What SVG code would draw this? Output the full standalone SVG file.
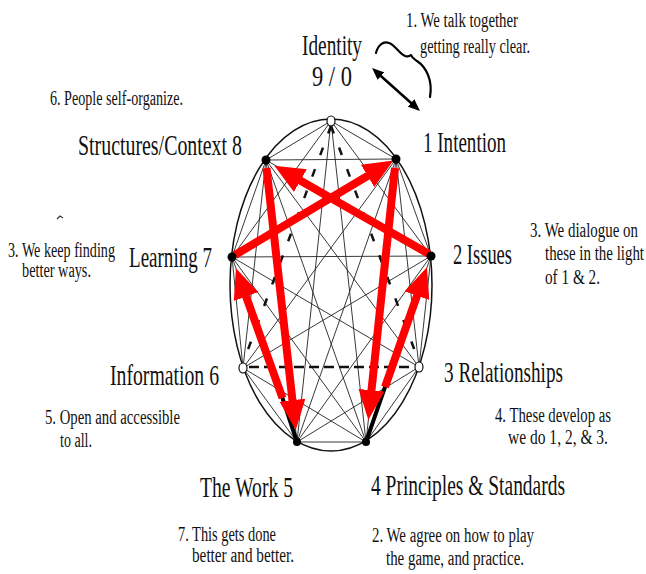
<svg xmlns="http://www.w3.org/2000/svg" width="646" height="574" viewBox="0 0 646 574">
<defs>
<style>
.big{font-family:"Liberation Serif","Times New Roman",serif;font-size:29px;fill:#111}
.sm{font-family:"Liberation Serif","Times New Roman",serif;font-size:20px;fill:#111}
.thin{stroke:#222;stroke-width:0.9;fill:none}
.dashA{stroke:#111;stroke-width:2.5;stroke-dasharray:8 15;fill:none}
.dashB{stroke:#111;stroke-width:2.5;stroke-dasharray:10 5;fill:none}
.red{stroke:#ff0000;stroke-width:8;fill:none;marker-end:url(#rh)}
.thick{stroke:#000;stroke-width:4;stroke-linecap:round}
.dot{fill:#000}
.wdot{fill:#fff;stroke:#111;stroke-width:1.2}
</style>
<marker id="rh" markerUnits="userSpaceOnUse" markerWidth="30" markerHeight="26" refX="15" refY="13" orient="auto" viewBox="0 0 30 26"><path d="M0,0 L30,13 L0,26 z" fill="#ff0000"/></marker>
<marker id="bh" markerUnits="userSpaceOnUse" markerWidth="12" markerHeight="10" refX="8" refY="5" orient="auto-start-reverse" viewBox="0 0 12 10"><path d="M0,0 L12,5 L0,10 z" fill="#000"/></marker>
</defs>
<rect width="646" height="574" fill="#fff"/>
<ellipse cx="331" cy="285" rx="101" ry="166" fill="none" stroke="#111" stroke-width="1.5"/>
<g id="connectors">
<line class="thin" x1="331" y1="121" x2="396" y2="159"/>
<line class="thin" x1="331" y1="121" x2="431" y2="256"/>
<line class="thin" x1="331" y1="121" x2="366" y2="442"/>
<line class="thin" x1="331" y1="121" x2="297" y2="442"/>
<line class="thin" x1="331" y1="121" x2="232" y2="257"/>
<line class="thin" x1="331" y1="121" x2="266" y2="160"/>
<line class="thin" x1="396" y1="159" x2="431" y2="256"/>
<line class="thin" x1="396" y1="159" x2="419" y2="367"/>
<line class="thin" x1="396" y1="159" x2="366" y2="442"/>
<line class="thin" x1="396" y1="159" x2="297" y2="442"/>
<line class="thin" x1="396" y1="159" x2="243" y2="368"/>
<line class="thin" x1="396" y1="159" x2="232" y2="257"/>
<line class="thin" x1="396" y1="159" x2="266" y2="160"/>
<line class="thin" x1="431" y1="256" x2="419" y2="367"/>
<line class="thin" x1="431" y1="256" x2="366" y2="442"/>
<line class="thin" x1="431" y1="256" x2="297" y2="442"/>
<line class="thin" x1="431" y1="256" x2="243" y2="368"/>
<line class="thin" x1="431" y1="256" x2="232" y2="257"/>
<line class="thin" x1="431" y1="256" x2="266" y2="160"/>
<line class="thin" x1="419" y1="367" x2="366" y2="442"/>
<line class="thin" x1="419" y1="367" x2="297" y2="442"/>
<line class="thin" x1="419" y1="367" x2="232" y2="257"/>
<line class="thin" x1="419" y1="367" x2="266" y2="160"/>
<line class="thin" x1="366" y1="442" x2="297" y2="442"/>
<line class="thin" x1="366" y1="442" x2="243" y2="368"/>
<line class="thin" x1="366" y1="442" x2="232" y2="257"/>
<line class="thin" x1="366" y1="442" x2="266" y2="160"/>
<line class="thin" x1="297" y1="442" x2="243" y2="368"/>
<line class="thin" x1="297" y1="442" x2="232" y2="257"/>
<line class="thin" x1="297" y1="442" x2="266" y2="160"/>
<line class="thin" x1="243" y1="368" x2="232" y2="257"/>
<line class="thin" x1="243" y1="368" x2="266" y2="160"/>
<line class="thin" x1="232" y1="257" x2="266" y2="160"/>
<line class="dashA" x1="331" y1="126" x2="419" y2="362"/>
<line class="dashA" x1="331" y1="126" x2="243" y2="363"/>
<line class="dashB" x1="249" y1="367" x2="413" y2="367"/>
<line class="thick" x1="297" y1="442" x2="282.5" y2="398"/>
<line class="thick" x1="366" y1="442" x2="385" y2="387"/>
<line class="red" x1="429" y1="254" x2="287.4" y2="173.2"/>
<line class="red" x1="235" y1="255" x2="380.5" y2="168.2"/>
<line class="red" x1="266.5" y1="168" x2="294.1" y2="415.1"/>
<line class="red" x1="395" y1="168" x2="369.9" y2="405.2"/>
<line class="red" x1="282.5" y1="398" x2="241" y2="282.4"/>
<line class="red" x1="385" y1="387" x2="422" y2="281.5"/>
<line x1="375" y1="70.7" x2="417" y2="108.3" stroke="#000" stroke-width="2.5" marker-start="url(#bh)" marker-end="url(#bh)"/>
<path d="M376,53 C378,45 383,41 389,43 C395,45 399,53 405,56 C408,57 410,56 411,55 C412,58 414,59 417,61 C426,67 433,80 430,97" fill="none" stroke="#000" stroke-width="2.2" stroke-linecap="round" stroke-linejoin="round"/>
</g>
<g id="node-identity">
<ellipse class="wdot" cx="331" cy="121" rx="4" ry="5"/>
<text class="big" x="302" y="55" textLength="60" lengthAdjust="spacingAndGlyphs">Identity</text>
<text class="big" x="312" y="86" textLength="40" lengthAdjust="spacingAndGlyphs">9 / 0</text>
</g>
<g id="node-intention">
<circle class="dot" cx="396" cy="159" r="4.5"/>
<text class="big" x="423" y="152" textLength="83" lengthAdjust="spacingAndGlyphs">1 Intention</text>
</g>
<g id="node-issues">
<circle class="dot" cx="431" cy="256" r="4.5"/>
<text class="big" x="453" y="264" textLength="59" lengthAdjust="spacingAndGlyphs">2 Issues</text>
</g>
<g id="node-relationships">
<ellipse class="wdot" cx="419" cy="367" rx="4" ry="5"/>
<text class="big" x="444" y="382" textLength="119" lengthAdjust="spacingAndGlyphs">3 Relationships</text>
</g>
<g id="node-principles">
<circle class="dot" cx="366" cy="442" r="4"/>
<text class="big" x="371" y="495" textLength="194" lengthAdjust="spacingAndGlyphs">4 Principles &amp; Standards</text>
</g>
<g id="node-work">
<circle class="dot" cx="297" cy="442" r="4"/>
<text class="big" x="200" y="497" textLength="93" lengthAdjust="spacingAndGlyphs">The Work 5</text>
</g>
<g id="node-information">
<ellipse class="wdot" cx="243" cy="368" rx="4" ry="5"/>
<text class="big" x="110" y="385" textLength="109" lengthAdjust="spacingAndGlyphs">Information 6</text>
</g>
<g id="node-learning">
<circle class="dot" cx="232" cy="257" r="4.5"/>
<text class="big" x="129" y="267" textLength="83" lengthAdjust="spacingAndGlyphs">Learning 7</text>
</g>
<g id="node-structures">
<circle class="dot" cx="266" cy="160" r="4.5"/>
<text class="big" x="78" y="155" textLength="164" lengthAdjust="spacingAndGlyphs">Structures/Context 8</text>
</g>
<g id="notes">
<text class="sm" x="406" y="27" textLength="112" lengthAdjust="spacingAndGlyphs">1. We talk together</text>
<text class="sm" x="420" y="53" textLength="110" lengthAdjust="spacingAndGlyphs">getting really clear.</text>
<text class="sm" x="50" y="105" textLength="133" lengthAdjust="spacingAndGlyphs">6. People self-organize.</text>
<text class="sm" x="8" y="257" textLength="107" lengthAdjust="spacingAndGlyphs">3. We keep finding</text>
<text class="sm" x="22" y="277" textLength="69" lengthAdjust="spacingAndGlyphs">better ways.</text>
<text class="sm" x="530" y="237" textLength="108" lengthAdjust="spacingAndGlyphs">3. We dialogue on</text>
<text class="sm" x="545" y="260" textLength="99" lengthAdjust="spacingAndGlyphs">these in the light</text>
<text class="sm" x="545" y="284" textLength="55" lengthAdjust="spacingAndGlyphs">of 1 &amp; 2.</text>
<text class="sm" x="45" y="424" textLength="135" lengthAdjust="spacingAndGlyphs">5. Open and accessible</text>
<text class="sm" x="60" y="447" textLength="32" lengthAdjust="spacingAndGlyphs">to all.</text>
<text class="sm" x="495" y="422" textLength="116" lengthAdjust="spacingAndGlyphs">4. These develop as</text>
<text class="sm" x="508" y="444" textLength="100" lengthAdjust="spacingAndGlyphs">we do 1, 2, &amp; 3.</text>
<text class="sm" x="178" y="541" textLength="98" lengthAdjust="spacingAndGlyphs">7. This gets done</text>
<text class="sm" x="192" y="562" textLength="102" lengthAdjust="spacingAndGlyphs">better and better.</text>
<text class="sm" x="372" y="542" textLength="162" lengthAdjust="spacingAndGlyphs">2. We agree on how to play</text>
<text class="sm" x="386" y="565" textLength="138" lengthAdjust="spacingAndGlyphs">the game, and practice.</text>
</g>
<path d="M57,219 L60,216 L63,218" fill="none" stroke="#333" stroke-width="1.2"/>
</svg>
